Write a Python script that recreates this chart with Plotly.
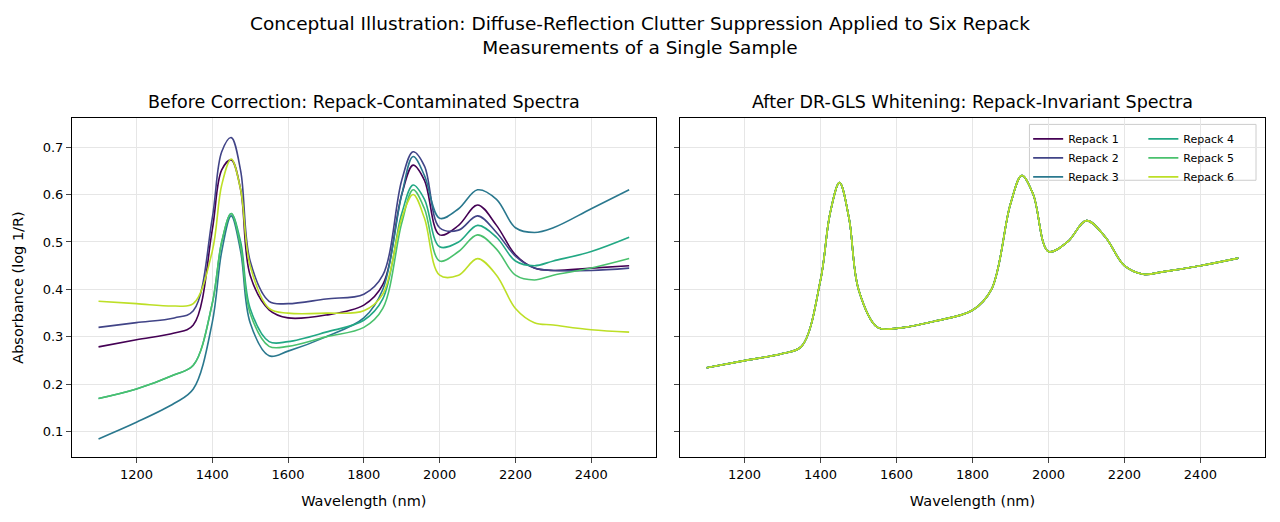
import plotly.graph_objects as go

wl = [1100,1200,1300,1350,1400,1425,1450,1475,1500,1550,1600,1700,1800,1850,1900,1930,1960,2000,2050,2100,2150,2200,2250,2300,2400,2500]
before = {
 "Repack 1": [0.279,0.294,0.308,0.325,0.525,0.652,0.673,0.61,0.43,0.357,0.34,0.346,0.367,0.41,0.6,0.662,0.63,0.515,0.535,0.578,0.535,0.473,0.445,0.44,0.445,0.45],
 "Repack 2": [0.32,0.33,0.34,0.355,0.55,0.69,0.72,0.65,0.46,0.375,0.37,0.38,0.39,0.43,0.63,0.69,0.66,0.53,0.525,0.555,0.52,0.47,0.445,0.44,0.44,0.445],
 "Repack 3": [0.085,0.12,0.16,0.19,0.33,0.48,0.555,0.48,0.33,0.26,0.27,0.30,0.34,0.40,0.60,0.68,0.64,0.55,0.57,0.61,0.59,0.53,0.52,0.53,0.57,0.61],
 "Repack 4": [0.17,0.19,0.22,0.24,0.37,0.50,0.56,0.50,0.36,0.29,0.29,0.31,0.335,0.38,0.56,0.62,0.59,0.49,0.50,0.535,0.51,0.46,0.45,0.46,0.48,0.51],
 "Repack 5": [0.17,0.19,0.22,0.24,0.37,0.50,0.56,0.49,0.35,0.28,0.28,0.30,0.32,0.36,0.54,0.61,0.57,0.46,0.48,0.515,0.485,0.43,0.42,0.43,0.445,0.465],
 "Repack 6": [0.375,0.37,0.365,0.37,0.48,0.62,0.675,0.61,0.45,0.36,0.35,0.35,0.355,0.39,0.55,0.60,0.55,0.43,0.43,0.465,0.43,0.36,0.33,0.325,0.315,0.31],
}
after = [0.235,0.25,0.265,0.28,0.42,0.56,0.625,0.55,0.40,0.32,0.318,0.333,0.356,0.40,0.58,0.64,0.60,0.48,0.50,0.545,0.51,0.45,0.432,0.437,0.45,0.466]
colors = ['#440154','#414487','#2a788e','#22a884','#4ac16d','#bddf26']

fig = go.Figure()
for i,(name,vals) in enumerate(before.items()):
    fig.add_trace(go.Scatter(x=wl,y=vals,mode='lines',line=dict(color=colors[i],width=1.6,shape='spline'),showlegend=False,xaxis='x',yaxis='y'))
for i,name in enumerate(before):
    fig.add_trace(go.Scatter(x=wl,y=after,mode='lines',name=name,line=dict(color=colors[i],width=1.6,shape='spline'),
                             xaxis='x2',yaxis='y2',legend='legend' if i<3 else 'legend2'))

ax = dict(showline=True,mirror=True,linecolor='black',ticks='outside',showgrid=True,gridcolor='#e6e6e6',automargin=False,
          range=[1030,2570],tickvals=[1200,1400,1600,1800,2000,2200,2400],zeroline=False,
          title=dict(text='Wavelength (nm)',font=dict(size=14.5)),tickfont=dict(size=13))
ay = dict(showline=True,mirror=True,linecolor='black',ticks='outside',showgrid=True,gridcolor='#e6e6e6',automargin=False,
          range=[0.047,0.761],tickvals=[0.1,0.2,0.3,0.4,0.5,0.6,0.7],zeroline=False,tickfont=dict(size=13),domain=[0.14,0.789])
leg = dict(bgcolor='rgba(0,0,0,0)',borderwidth=0,font=dict(size=11),yanchor='top',xanchor='left',tracegroupgap=0)
fig.update_layout(
    width=1280,height=522,margin=dict(l=0,r=0,t=0,b=0),plot_bgcolor='white',paper_bgcolor='white',
    font=dict(family='DejaVu Sans',color='black'),
    xaxis=dict(ax,domain=[0.05,0.506],anchor='y'),
    yaxis=dict(ay,anchor='x',title=dict(text='Absorbance (log 1/R)',font=dict(size=14.5))),
    xaxis2=dict(ax,domain=[0.525,0.982],anchor='y2'),
    yaxis2=dict(ay,anchor='x2',showticklabels=False),
    legend=dict(leg,x=0.797,y=0.777),
    legend2=dict(leg,x=0.887,y=0.777),
    shapes=[dict(type='rect',xref='paper',yref='paper',x0=0.798,x1=0.975,y0=0.67,y1=0.777,
                 line=dict(color='#cccccc',width=1),fillcolor='rgba(255,255,255,0.8)',layer='below')],
    annotations=[
        dict(text='Conceptual Illustration: Diffuse-Reflection Clutter Suppression Applied to Six Repack<br>Measurements of a Single Sample',
             x=0.4938,y=0.995,xref='paper',yref='paper',showarrow=False,xanchor='center',yanchor='top',font=dict(size=18.5)),
        dict(text='Before Correction: Repack-Contaminated Spectra',x=0.278,y=0.797,xref='paper',yref='paper',showarrow=False,xanchor='center',yanchor='bottom',font=dict(size=17.5)),
        dict(text='After DR-GLS Whitening: Repack-Invariant Spectra',x=0.7535,y=0.797,xref='paper',yref='paper',showarrow=False,xanchor='center',yanchor='bottom',font=dict(size=17.5)),
    ])
fig.write_html("out.html")
